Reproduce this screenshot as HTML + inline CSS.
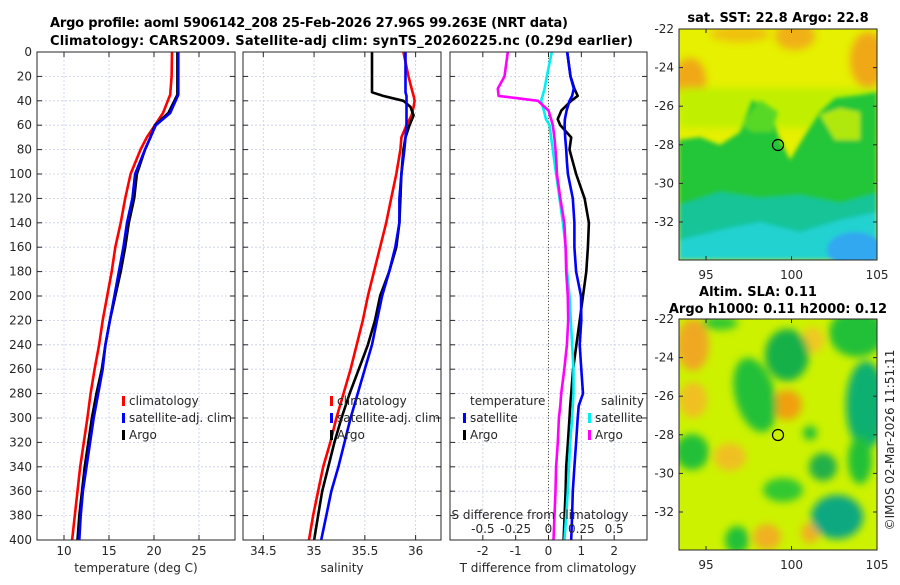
<!DOCTYPE html>
<html><head><meta charset="utf-8"><style>
body{margin:0;background:#fff;width:900px;height:580px;overflow:hidden}
svg text{font-family:"DejaVu Sans","Liberation Sans",sans-serif;fill:#262626}
.t{font-weight:bold;fill:#000}
</style></head><body>
<svg id="c" width="900" height="580" viewBox="0 0 900 580" xmlns="http://www.w3.org/2000/svg">
<defs>
<filter id="bl" x="-20%" y="-20%" width="140%" height="140%"><feGaussianBlur stdDeviation="2"/></filter>
<filter id="bl2" x="-50%" y="-50%" width="200%" height="200%"><feGaussianBlur stdDeviation="4"/></filter>
<clipPath id="cm1"><rect x="679" y="29" width="198" height="231"/></clipPath>
<clipPath id="cm2"><rect x="679" y="319" width="198" height="231"/></clipPath>
</defs>
<text class="t" x="50" y="27" font-size="13" textLength="518">Argo profile: aoml 5906142_208 25-Feb-2026 27.96S 99.263E (NRT data)</text>
<text class="t" x="50" y="45" font-size="13" textLength="583">Climatology: CARS2009. Satellite-adj clim: synTS_20260225.nc (0.29d earlier)</text>

<g clip-path="url(#cm1)">
<rect x="679" y="29" width="198" height="231" fill="#e6f000"/>
<g filter="url(#bl2)">
<ellipse cx="690" cy="80" rx="16" ry="22" fill="#f0a818"/>
<ellipse cx="795" cy="36" rx="20" ry="14" fill="#f0b018"/>
<ellipse cx="868" cy="60" rx="18" ry="28" fill="#f0a818"/>
<ellipse cx="740" cy="34" rx="30" ry="8" fill="#f0c010"/>
<rect x="679" y="88" width="198" height="40" fill="#c0f000"/>
</g>
<g filter="url(#bl)">
<polygon points="679,140 700,137 720,145 740,132 752,100 770,110 778,135 790,160 805,135 820,112 835,98 860,95 877,92 877,260 679,260" fill="#22c638"/>
<polygon points="742,125 760,100 778,112 772,132 752,132" fill="#58d828"/>
<polygon points="820,115 840,108 860,112 860,140 835,140" fill="#b0e810"/>
<polygon points="679,205 720,192 760,198 800,195 840,203 877,193 877,260 679,260" fill="#14c498"/>
<polygon points="679,240 720,230 760,222 800,232 840,220 877,212 877,260 679,260" fill="#20d2d0"/>
<ellipse cx="855" cy="250" rx="28" ry="18" fill="#30a8f0"/>
</g>
<circle cx="778" cy="145" r="5.5" fill="none" stroke="#000" stroke-width="1.2"/>
</g>
<rect x="679" y="29" width="198" height="231" fill="none" stroke="#262626" stroke-width="1"/>

<g clip-path="url(#cm2)">
<rect x="679" y="319" width="198" height="231" fill="#ccf200"/>
<g filter="url(#bl2)">
<ellipse cx="693" cy="345" rx="16" ry="26" fill="#f0a820"/>
<ellipse cx="693" cy="400" rx="14" ry="18" fill="#f0c020"/>
<ellipse cx="787" cy="405" rx="15" ry="15" fill="#f0a010"/>
<ellipse cx="730" cy="457" rx="16" ry="14" fill="#f0c020"/>
<ellipse cx="767" cy="537" rx="14" ry="13" fill="#f0b020"/>
<ellipse cx="810" cy="533" rx="9" ry="10" fill="#f0b020"/>
<ellipse cx="813" cy="340" rx="11" ry="13" fill="#f0c820"/>
<ellipse cx="787" cy="355" rx="22" ry="26" fill="#18b048"/>
<ellipse cx="755" cy="395" rx="20" ry="38" fill="#20c038" transform="rotate(-15 755 395)"/>
<ellipse cx="692" cy="452" rx="17" ry="18" fill="#20c038"/>
<ellipse cx="857" cy="333" rx="28" ry="24" fill="#20c038"/>
<ellipse cx="866" cy="405" rx="20" ry="44" fill="#10b070"/>
<ellipse cx="823" cy="467" rx="14" ry="14" fill="#20b048"/>
<ellipse cx="837" cy="517" rx="26" ry="22" fill="#10a880"/>
<ellipse cx="810" cy="433" rx="7" ry="7" fill="#20c038"/>
<ellipse cx="783" cy="490" rx="20" ry="12" fill="#30c830"/>
<ellipse cx="737" cy="540" rx="12" ry="14" fill="#20c038"/>
<ellipse cx="860" cy="460" rx="12" ry="24" fill="#20c038"/>
<ellipse cx="720" cy="323" rx="18" ry="7" fill="#30c830"/>
</g>
<circle cx="778" cy="435" r="5.5" fill="none" stroke="#000" stroke-width="1.2"/>
</g>
<rect x="679" y="319" width="198" height="231" fill="none" stroke="#262626" stroke-width="1"/>

<text class="t" x="778" y="22" font-size="13" text-anchor="middle">sat. SST: 22.8 Argo: 22.8</text>
<text class="t" x="758" y="296" font-size="13" text-anchor="middle">Altim. SLA: 0.11</text>
<text class="t" x="778" y="313" font-size="13" text-anchor="middle">Argo h1000: 0.11 h2000: 0.12</text>
<text x="894" y="440" font-size="12" text-anchor="middle" transform="rotate(-90 894 440)">©IMOS 02-Mar-2026 11:51:11</text>
<g id="g"></g>
</svg>
<script>
// Panel 1: temperature
const D1 = [0,20,35,50,60,70,80,100,120,140,160,180,200,220,240,260,280,300,320,340,360,380,400];
const tClim = [22.0,21.95,21.8,21.0,20.1,19.2,18.5,17.4,16.8,16.3,15.7,15.3,14.8,14.3,13.9,13.4,12.96,12.6,12.2,11.8,11.5,11.2,10.9];
const tSat = [22.7,22.7,22.7,21.8,20.2,19.6,19.0,17.9,17.6,17.0,16.6,16.1,15.6,15.1,14.6,14.3,13.8,13.3,12.9,12.5,12.1,11.85,11.7];
const tArgo = [22.6,22.6,22.6,21.6,20.1,19.6,19.0,18.1,17.8,17.2,16.8,16.3,15.7,15.1,14.6,14.2,13.6,13.1,12.7,12.3,12.0,11.7,11.5];
// Panel 2: salinity
const D2 = [0,20,30,33,36,40,45,52,60,70,80,100,120,140,160,180,200,220,240,260,280,300,320,340,360,380,400];
const sClim = [35.88,35.93,35.96,35.97,35.98,35.99,35.98,35.96,35.91,35.86,35.85,35.81,35.76,35.71,35.65,35.59,35.53,35.48,35.42,35.36,35.29,35.22,35.16,35.09,35.04,34.99,34.95];
const sSat = [35.90,35.90,35.90,35.90,35.91,35.91,35.91,35.91,35.91,35.90,35.89,35.86,35.84,35.84,35.80,35.74,35.67,35.62,35.57,35.50,35.43,35.36,35.30,35.24,35.17,35.12,35.07];
const sArgo = [35.57,35.57,35.57,35.57,35.68,35.88,35.95,35.98,35.94,35.90,35.88,35.86,35.85,35.84,35.81,35.74,35.65,35.60,35.53,35.44,35.35,35.27,35.20,35.14,35.08,35.04,35.00];
// Panel 3: differences
const D3 = [0,20,30,36,40,48,55,60,70,80,90,100,120,140,160,180,200,220,240,260,280,290,300,320,340,360,380,400];
const dTSat = [0.57,0.67,0.77,0.72,0.64,0.55,0.50,0.49,0.51,0.54,0.56,0.59,0.74,0.79,0.79,0.84,0.99,1.0,0.95,1.0,1.05,0.92,0.89,0.84,0.79,0.74,0.72,0.69];
const dTArgo = [0.57,0.67,0.79,0.89,0.69,0.39,0.28,0.36,0.69,0.64,0.74,0.84,1.10,1.23,1.20,1.15,1.05,0.95,0.85,0.75,0.69,0.66,0.64,0.59,0.54,0.52,0.49,0.46];
const dSSat = [0.025,-0.013,-0.03,-0.045,-0.056,-0.035,-0.02,0.008,0.02,0.033,0.045,0.058,0.084,0.11,0.13,0.142,0.16,0.17,0.18,0.19,0.19,0.185,0.18,0.165,0.155,0.147,0.135,0.122];
const dSArgo = [-0.31,-0.335,-0.386,-0.38,-0.08,0.0,0.02,0.033,0.045,0.053,0.06,0.064,0.09,0.12,0.13,0.135,0.147,0.15,0.14,0.12,0.097,0.09,0.079,0.071,0.058,0.053,0.046,0.038];
const depthTicks = [0,20,40,60,80,100,120,140,160,180,200,220,240,260,280,300,320,340,360,380,400];
const tTicks = [10,15,20,25];
const sTicks = [34.5,35,35.5,36];
const dTTicks = [-2,-1,0,1,2];
const dSTicks = [-0.5,-0.25,0,0.25,0.5];
const latTicks = [-22,-24,-26,-28,-30,-32];
const lonTicks = [95,100,105];

const NS='http://www.w3.org/2000/svg';
const G=document.getElementById('g');
function mk(tag,attrs,parent){const e=document.createElementNS(NS,tag);for(const k in attrs)e.setAttribute(k,attrs[k]);(parent||G).appendChild(e);return e;}
const Y0=52,Y1=540;
const yD=d=>Y0+(d/400)*(Y1-Y0);
function lin(d0,d1,r0,r1){return v=>r0+(v-d0)/(d1-d0)*(r1-r0);}
const P=[{x0:37,x1:235,lo:7,hi:29},{x0:243,x1:441,lo:34.3,hi:36.25},{x0:450,x1:647,lo:-3,hi:3}];
const xs=P.map(p=>lin(p.lo,p.hi,p.x0,p.x1));
const xS=lin(-0.75,0.75,450,647);

function grid(pi,ticks){
  const p=P[pi];
  depthTicks.forEach(d=>{const l=mk('line',{x1:p.x0,x2:p.x1,y1:yD(d),y2:yD(d),stroke:'#c8cce8','stroke-width':0.8,'stroke-dasharray':'2,2'});
    });
  ticks.forEach(v=>{const x=xs[pi](v);const l=mk('line',{x1:x,x2:x,y1:Y0,y2:Y1,stroke:'#c8cce8','stroke-width':0.8,'stroke-dasharray':'2,2'});
    });
}
function frame(pi,ticks,name){
  const p=P[pi];
  depthTicks.forEach(d=>{mk('line',{x1:p.x0,x2:p.x0+5,y1:yD(d),y2:yD(d),stroke:'#262626'});mk('line',{x1:p.x1-5,x2:p.x1,y1:yD(d),y2:yD(d),stroke:'#262626'});});
  ticks.forEach(v=>{const x=xs[pi](v);mk('line',{x1:x,x2:x,y1:Y1,y2:Y1-5,stroke:'#262626'});mk('line',{x1:x,x2:x,y1:Y0,y2:Y0+5,stroke:'#262626'});
    const t=mk('text',{x:x,y:555,'font-size':12,'text-anchor':'middle'});t.textContent=String(v);
    });
  const r=mk('rect',{x:p.x0,y:Y0,width:p.x1-p.x0,height:Y1-Y0,fill:'none',stroke:'#262626','stroke-width':1});
  
}
function line(pi,D,V,col,name,xf){
  const f=xf||xs[pi];
  const pts=D.map((d,i)=>f(V[i]).toFixed(1)+','+yD(d).toFixed(1)).join(' ');
  const l=mk('polyline',{points:pts,fill:'none',stroke:col,'stroke-width':2.6,'stroke-linejoin':'round'});
  
}
function txt(x,y,s,attrs,name){const t=mk('text',Object.assign({x:x,y:y,'font-size':12},attrs||{}));t.textContent=s;
  return t;}
function mark(x,y,col){const r=mk('rect',{x:x,y:y-9,width:3,height:10,fill:col});}

grid(0,tTicks);grid(1,sTicks);grid(2,dTTicks);
const z=mk('line',{x1:xs[2](0),x2:xs[2](0),y1:Y0,y2:Y1,stroke:'#555533','stroke-width':1,'stroke-dasharray':'1,2'});


line(0,D1,tClim,'#ff0000','temp-climatology-line');
line(0,D1,tArgo,'#000000','temp-argo-line');
line(0,D1,tSat,'#0000ff','temp-satellite-line');
line(1,D2,sClim,'#ff0000','sal-climatology-line');
line(1,D2,sArgo,'#000000','sal-argo-line');
line(1,D2,sSat,'#0000ff','sal-satellite-line');
line(2,D3,dTArgo,'#000000','tdiff-argo-line');
line(2,D3,dTSat,'#0000ff','tdiff-satellite-line');
line(2,D3,dSSat,'#00f0f0','sdiff-satellite-line',xS);
line(2,D3,dSArgo,'#ff00ff','sdiff-argo-line',xS);

frame(0,tTicks,'temperature');frame(1,sTicks,'salinity');frame(2,dTTicks,'difference');

depthTicks.forEach(d=>txt(32,yD(d)+4,String(d),{'text-anchor':'end'},'depth-tick-label'));
txt(136,572,'temperature (deg C)',{'text-anchor':'middle'},'temperature-axis-title');
txt(342,572,'salinity',{'text-anchor':'middle'},'salinity-axis-title');
txt(548,572,'T difference from climatology',{'text-anchor':'middle'},'t-diff-axis-title');
txt(540,519,'S difference from climatology',{'text-anchor':'middle'},'s-diff-axis-title');
dSTicks.forEach(v=>txt(xS(v),533,String(v),{'text-anchor':'middle'},'s-diff-tick-label'));

// legends
[[122,'climatology','#ff0000'],[122,'satellite-adj. clim','#0000ff'],[122,'Argo','#000000']].forEach((r,i)=>{mark(r[0],405+i*17,r[2]);txt(r[0]+7,405+i*17,r[1],{},'legend-entry-temp');});
[[330,'climatology','#ff0000'],[330,'satellite-adj. clim','#0000ff'],[330,'Argo','#000000']].forEach((r,i)=>{mark(r[0],405+i*17,r[2]);txt(r[0]+7,405+i*17,r[1],{},'legend-entry-sal');});
txt(470,405,'temperature',{},'legend-title-temperature');
mark(463,422,'#0000ff');txt(470,422,'satellite',{},'legend-entry-t-satellite');
mark(463,439,'#000000');txt(470,439,'Argo',{},'legend-entry-t-argo');
txt(644,405,'salinity',{'text-anchor':'end'},'legend-title-salinity');
mark(588,422,'#00f0f0');txt(595,422,'satellite',{},'legend-entry-s-satellite');
mark(588,439,'#ff00ff');txt(595,439,'Argo',{},'legend-entry-s-argo');

// map axes
const latY1=v=>29+(-22-v)*19.3, latY2=v=>319+(-22-v)*19.3, lonX=v=>679+(v-93.42)*17.1;
latTicks.forEach(v=>{[latY1,latY2].forEach(f=>{const y=f(v);txt(674,y+4,String(v),{'text-anchor':'end'},'lat-tick-label');
  mk('line',{x1:679,x2:683,y1:y,y2:y,stroke:'#262626'});mk('line',{x1:873,x2:877,y1:y,y2:y,stroke:'#262626'});});});
lonTicks.forEach(v=>{const x=lonX(v);[[260,279],[550,569]].forEach(a=>{txt(x,a[1],String(v),{'text-anchor':'middle'},'lon-tick-label');
  mk('line',{x1:x,x2:x,y1:a[0],y2:a[0]-4,stroke:'#262626'});mk('line',{x1:x,x2:x,y1:a[0]-231,y2:a[0]-227,stroke:'#262626'});});});
</script>
</body></html>
